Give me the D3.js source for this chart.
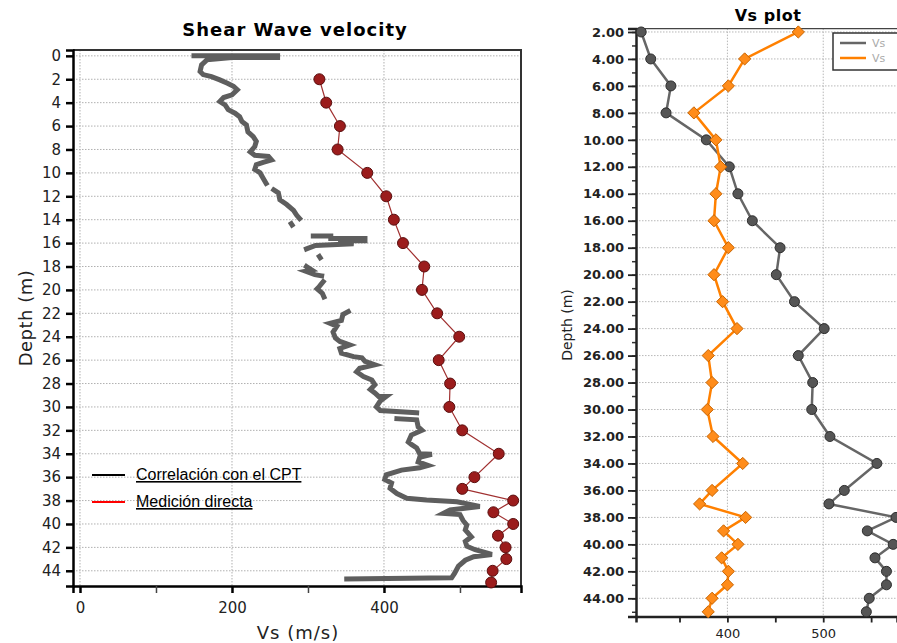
<!DOCTYPE html>
<html>
<head>
<meta charset="utf-8">
<script src="https://cdn.jsdelivr.net/npm/d3@7"></script>
<style>
  body { margin: 0; background: #fff; overflow: hidden; }
  svg { display: block; }
</style>
</head>
<body>
<div id="chart"></div>
<script>
// ---- data: left panel (Shear Wave velocity) ----
var cptDepth = [0, 0, 0.15, 0.15, 0.34, 0.77, 1.34, 1.6, 1.77, 2.05, 2.34, 2.6, 2.9, 3.33, 3.56, 3.9, 4.2, 4.6, 4.9, 5.2, 5.6, 5.9, 6.5, 6.9, 7.3, 7.75, 8.2, 8.5, 8.6, 8.9, 9.1, 9.3, 9.7, 10.0, 10.45, 10.9,
  null, 11.45, 11.7, 12.3, 12.7, 13.2, 13.6, 13.9,
  null, 14.35, 14.45,
  null, 15.4, 15.4, 15.6, 15.6, 15.8, 15.8, 16.05, 16.2, 16.5,
  null, 17.15, 17.25,
  null, 18.0, 18.3, 18.4, 18.7, 18.8,
  null, 19.3, 19.7, 19.9, 20.3, 20.6,
  null, 21.85, 22.1, 22.6, 22.85, 23.1, 23.6, 24.1, 24.4, 24.7, 25.0, 25.4, 25.7, 25.8, 26.1, 26.4, 26.7, 27.0, 27.4, 27.7, 28.1, 28.5, 28.8, 29.1, 29.1, 29.5, 30.0, 30.3, 30.5,
  null, 31.0, 31.1, 31.7, 32.0, 32.4, 33.0, 33.2, 33.5, 34.0, 34.05, 34.3, 34.7, 35.0, 35.2, 35.4, 35.8, 36.2, 36.5, 36.95, 37.4, 37.8, 37.95, 38.1, 38.5, 38.8, 39.1, 39.2, 39.7, 40.1, 40.5, 41.1, 41.5, 41.9, 42.2, 42.6, 42.8, 43.1, 43.6, 44.2, 44.6, 44.7];
var cptVs = [150, 260, 260, 200, 167, 160, 158, 162, 173, 184, 194, 202, 207, 200, 189, 184, 191, 195, 204, 210, 213, 219, 221, 228, 232, 230, 224, 230, 248, 252, 241, 232, 230, 237, 241, 245,
  null, 255, 261, 263, 272, 281, 285, 289,
  null, 278, 279,
  null, 307, 330, 330, 375, 375, 340, 360, 310, 298,
  null, 315, 316,
  null, 298, 305, 297, 309, 318,
  null, 320, 315, 312, 319, 321,
  null, 353, 346, 344, 329, 338, 333, 336, 342, 355, 342, 344, 360, 371, 375, 388, 368, 364, 373, 384, 388, 382, 388, 393, 403, 395, 390, 395, 443,
  null, 417, 443, 445, 450, 436, 432, 436, 443, 447, 463, 447, 445, 458, 447, 423, 403, 401, 410, 408, 417, 430, 456, 496, 526, 487, 478, 500, 504, 509, 507, 515, 507, 509, 520, 542, 518, 507, 498, 493, 489, 351];

var directDepth = [2, 4, 6, 8, 10, 12, 14, 16, 18, 20, 22, 24, 26, 28, 30, 32, 34, 36, 37, 38, 39, 40, 41, 42, 43, 44, 45];
var directVs = [315, 324, 342, 339, 378, 403, 413, 425, 453, 450, 470, 499, 472, 487, 486, 503, 551, 519, 503, 570, 544, 570, 550, 560, 561, 543, 541];

var leftDepthTicks = d3.range(0, 45, 2);
var leftVsTicks = [0, 200, 400];
var leftVsMinor = [100, 300, 500];
var legendLabels = ["Correlación con el CPT", "Medición directa"];

// ---- data: right panel (Vs plot) ----
var vsDepth = [2, 4, 6, 8, 10, 12, 14, 16, 18, 20, 22, 24, 26, 28, 30, 32, 34, 36, 37, 38, 39, 40, 41, 42, 43, 44, 45];
var vsGrey = [310, 320, 341, 336, 378, 402, 411, 426, 455, 451, 470, 501, 474, 489, 488, 507, 556, 522, 506, 576, 546, 573, 554, 566, 566, 548, 545];
var vsOrange = [474, 418, 401, 365, 388, 393, 388, 386, 401, 386, 395, 410, 380, 384, 379, 385, 416, 384, 371, 419, 396, 411, 394, 401, 400, 384, 380];
var rightDepthTicks = d3.range(2, 45, 2);
var rightDepthMinor = d3.range(2, 46, 1);
var rightVsTicks = [400, 500];
var rightVsMinor = [350, 450, 550];

var W = 897, H = 643;
var svg = d3.select("#chart").append("svg").attr("width", W).attr("height", H);

// ================= LEFT PANEL =================
var xL = d3.scaleLinear().domain([-9.2, 580.3]).range([73, 521]);
var yL = d3.scaleLinear().domain([-0.5, 45.3]).range([50, 586]);
var left = svg.append("g");

// grid
left.selectAll(".hgrid").data(leftDepthTicks).enter().append("line")
  .attr("x1", xL.range()[0]).attr("x2", xL.range()[1])
  .attr("y1", function (d) { return yL(d) }).attr("y2", function (d) { return yL(d) })
  .attr("stroke", "#b0b0b0").attr("stroke-width", 1).attr("stroke-dasharray", "1.5,1.5");
left.selectAll(".vgrid").data(leftVsTicks).enter().append("line")
  .attr("y1", yL.range()[0]).attr("y2", yL.range()[1])
  .attr("x1", function (d) { return xL(d) }).attr("x2", function (d) { return xL(d) })
  .attr("stroke", "#b0b0b0").attr("stroke-width", 1).attr("stroke-dasharray", "1.5,1.5");

// frame: top and right
left.append("path")
  .attr("d", "M" + xL.range()[0] + "," + yL.range()[0] + "H" + xL.range()[1] + "V" + yL.range()[1])
  .attr("fill", "none").attr("stroke", "#333").attr("stroke-width", 2);

// axes
var yAxisL = left.append("g").attr("transform", "translate(" + xL.range()[0] + ",0)")
  .call(d3.axisLeft(yL).tickValues(leftDepthTicks).tickSize(7).tickPadding(5).tickFormat(d3.format("d")));
var xAxisL = left.append("g").attr("transform", "translate(0," + yL.range()[1] + ")")
  .call(d3.axisBottom(xL).tickValues(leftVsTicks.concat(leftVsMinor)).tickSize(7).tickPadding(9)
    .tickFormat(function (d) { return leftVsTicks.indexOf(d) >= 0 ? d : "" }));
[yAxisL, xAxisL].forEach(function (a) {
  a.select(".domain").attr("stroke", "#000").attr("stroke-width", 2.5);
  a.selectAll(".tick line").attr("stroke", "#000").attr("stroke-width", 2.5);
  a.selectAll("text").attr("fill", "#222").style("font-family", "DejaVu Sans, Verdana, sans-serif").style("font-size", "15px");
});
xAxisL.selectAll(".tick").filter(function (d) { return leftVsMinor.indexOf(d) >= 0 })
  .select("line").attr("stroke-width", 1.5).attr("stroke", "#444");

// CPT correlation line
var cptData = cptDepth.map(function (d, i) { return {d: d, v: cptVs[i]} });
left.append("path").datum(cptData)
  .attr("d", d3.line().defined(function (p) { return p.d !== null })
    .x(function (p) { return xL(p.v) }).y(function (p) { return yL(p.d) }))
  .attr("fill", "none").attr("stroke", "#5e5e5e").attr("stroke-width", 5)
  .attr("stroke-linejoin", "miter").attr("stroke-linecap", "square");

// direct measurement
var directData = directDepth.map(function (d, i) { return {d: d, v: directVs[i]} });
left.append("path").datum(directData)
  .attr("d", d3.line().x(function (p) { return xL(p.v) }).y(function (p) { return yL(p.d) }))
  .attr("fill", "none").attr("stroke", "#a03030").attr("stroke-width", 1.2);
left.selectAll(".dm").data(directData).enter().append("circle")
  .attr("cx", function (p) { return xL(p.v) }).attr("cy", function (p) { return yL(p.d) })
  .attr("r", 5.5).attr("fill", "#9b1c1c").attr("stroke", "#5a0f0f").attr("stroke-width", 1);

// legend
var legColors = ["#000", "#ff0000"];
var leg = left.selectAll(".leg").data(legendLabels).enter().append("g")
  .attr("transform", function (d, i) { return "translate(92," + (475 + i * 27) + ")" });
leg.append("line").attr("x1", 0).attr("x2", 33).attr("y1", 0).attr("y2", 0)
  .attr("stroke", function (d, i) { return legColors[i] }).attr("stroke-width", 2);
leg.append("text").attr("x", 44).attr("y", 5).text(function (d) { return d })
  .style("font-family", "Liberation Sans, Arial, sans-serif").style("font-size", "16px")
  .style("text-decoration", "underline").attr("fill", "#000");

// titles
left.append("text").attr("x", 295).attr("y", 36).attr("text-anchor", "middle")
  .style("font-family", "DejaVu Sans, Verdana, sans-serif").style("font-weight", "bold").style("font-size", "18px")
  .style("letter-spacing", "1px")
  .text("Shear Wave velocity");
left.append("text").attr("transform", "translate(32,318) rotate(-90)").attr("text-anchor", "middle")
  .style("font-family", "DejaVu Sans, Verdana, sans-serif").style("font-size", "18px").attr("fill", "#222")
  .style("letter-spacing", "0.5px")
  .text("Depth (m)");
left.append("text").attr("x", 298).attr("y", 639).attr("text-anchor", "middle")
  .style("font-family", "DejaVu Sans, Verdana, sans-serif").style("font-size", "18px").attr("fill", "#222")
  .style("letter-spacing", "1px")
  .text("Vs (m/s)");

// ================= RIGHT PANEL =================
var xR = d3.scaleLinear().domain([304.6, 577]).range([636, 897]);
var yR = d3.scaleLinear().domain([1.75, 45.35]).range([28.6, 616.5]);
var right = svg.append("g");

right.selectAll(".hgrid").data(rightDepthTicks).enter().append("line")
  .attr("x1", xR.range()[0]).attr("x2", xR.range()[1])
  .attr("y1", function (d) { return yR(d) }).attr("y2", function (d) { return yR(d) })
  .attr("stroke", "#b8b8b8").attr("stroke-width", 1).attr("stroke-dasharray", "1.5,1.5");
right.selectAll(".vgrid").data(rightVsTicks).enter().append("line")
  .attr("y1", yR.range()[0]).attr("y2", yR.range()[1])
  .attr("x1", function (d) { return xR(d) }).attr("x2", function (d) { return xR(d) })
  .attr("stroke", "#b8b8b8").attr("stroke-width", 1).attr("stroke-dasharray", "1.5,1.5");

// top border
right.append("line").attr("x1", xR.range()[0]).attr("x2", xR.range()[1])
  .attr("y1", yR.range()[0]).attr("y2", yR.range()[0]).attr("stroke", "#444").attr("stroke-width", 1.2);

// minor ticks
right.append("g").attr("transform", "translate(" + xR.range()[0] + ",0)")
  .call(d3.axisLeft(yR).tickValues(rightDepthMinor).tickSize(4).tickFormat(""))
  .call(function (g) { g.select(".domain").remove(); g.selectAll("line").attr("stroke", "#333").attr("stroke-width", 1.5) });

var yAxisR = right.append("g").attr("transform", "translate(" + xR.range()[0] + ",0)")
  .call(d3.axisLeft(yR).tickValues(rightDepthTicks).tickSize(8).tickPadding(4).tickFormat(d3.format(".2f")));
var xAxisR = right.append("g").attr("transform", "translate(0," + yR.range()[1] + ")")
  .call(d3.axisBottom(xR).tickValues(rightVsTicks.concat(rightVsMinor)).tickSize(6).tickPadding(6)
    .tickFormat(function (d) { return rightVsTicks.indexOf(d) >= 0 ? d : "" }));
[yAxisR, xAxisR].forEach(function (a) {
  a.select(".domain").attr("stroke", "#222").attr("stroke-width", 2.5);
  a.selectAll(".tick line").attr("stroke", "#222").attr("stroke-width", 1.8);
  a.selectAll("text").attr("fill", "#222").style("font-family", "DejaVu Sans, Verdana, sans-serif").style("font-size", "13px");
});
yAxisR.selectAll("text").style("font-weight", "bold");

// series
var greyData = vsDepth.map(function (d, i) { return {d: d, v: vsGrey[i]} });
var orangeData = vsDepth.map(function (d, i) { return {d: d, v: vsOrange[i]} });
var lineR = d3.line().x(function (p) { return xR(p.v) }).y(function (p) { return yR(p.d) });

right.append("path").datum(greyData).attr("d", lineR)
  .attr("fill", "none").attr("stroke", "#666").attr("stroke-width", 2.5);
right.append("path").datum(orangeData).attr("d", lineR)
  .attr("fill", "none").attr("stroke", "#ff8000").attr("stroke-width", 2.5);

right.selectAll(".gm").data(greyData).enter().append("circle")
  .attr("cx", function (p) { return xR(p.v) }).attr("cy", function (p) { return yR(p.d) })
  .attr("r", 5).attr("fill", "#555").attr("stroke", "#2e2e2e").attr("stroke-width", 1);
right.selectAll(".om").data(orangeData).enter().append("path")
  .attr("d", d3.symbol().type(d3.symbolDiamond2 || d3.symbolDiamond).size(95))
  .attr("transform", function (p) { return "translate(" + xR(p.v) + "," + yR(p.d) + ")" })
  .attr("fill", "#ff8c1a").attr("stroke", "#c86400").attr("stroke-width", 1);

// legend (cut off by the image edge)
var legR = right.append("g").attr("transform", "translate(833,33)");
legR.append("rect").attr("width", 80).attr("height", 37).attr("fill", "#fff").attr("stroke", "#333").attr("stroke-width", 1.5);
var legRColors = ["#666", "#ff8000"];
legR.selectAll(".li").data(legRColors).enter().append("line")
  .attr("x1", 7).attr("x2", 33).attr("y1", function (d, i) { return 10 + i * 15 }).attr("y2", function (d, i) { return 10 + i * 15 })
  .attr("stroke", function (d) { return d }).attr("stroke-width", 2.5);
legR.selectAll(".lt").data(["Vs", "Vs"]).enter().append("text")
  .attr("x", 39).attr("y", function (d, i) { return 14 + i * 15 })
  .style("font-family", "DejaVu Sans, Verdana, sans-serif").style("font-size", "11px").attr("fill", "#aaa")
  .text(function (d) { return d });

right.append("text").attr("x", 768).attr("y", 21).attr("text-anchor", "middle")
  .style("font-family", "DejaVu Sans, Verdana, sans-serif").style("font-weight", "bold").style("font-size", "16px")
  .style("letter-spacing", "0.5px")
  .text("Vs plot");
right.append("text").attr("transform", "translate(572,325) rotate(-90)").attr("text-anchor", "middle")
  .style("font-family", "DejaVu Sans, Verdana, sans-serif").style("font-size", "14px").attr("fill", "#222")
  .text("Depth (m)");
</script>
</body>
</html>
